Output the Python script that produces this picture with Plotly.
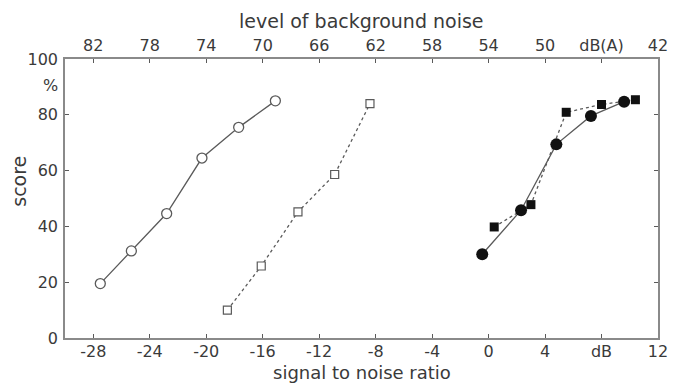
import plotly.graph_objects as go

# ---- data ----
open_circle_x = [-27.5, -25.3, -22.8, -20.3, -17.7, -15.1]
open_circle_y = [19.5, 31.2, 44.6, 64.5, 75.5, 85.0]

open_square_x = [-18.5, -16.1, -13.5, -10.9, -8.4]
open_square_y = [10.0, 25.8, 45.2, 58.6, 84.0]

filled_circle_x = [-0.45, 2.3, 4.8, 7.25, 9.6]
filled_circle_y = [30.0, 45.8, 69.4, 79.6, 84.7]

filled_square_x = [0.4, 3.0, 5.5, 8.0, 10.4]
filled_square_y = [39.8, 47.8, 80.9, 83.7, 85.4]

x_tickvals = [-28, -24, -20, -16, -12, -8, -4, 0, 4, 8, 12]
bottom_ticktext = ["-28", "-24", "-20", "-16", "-12", "-8", "-4", "0", "4", "dB", "12"]
top_ticktext = ["82", "78", "74", "70", "66", "62", "58", "54", "50", "dB(A)", "42"]
y_tickvals = [0, 20, 40, 60, 80, 100]
y_ticktext = ["0", "20", "40", "60", "80", "100"]

FONT = "DejaVu Sans"
TXT = "#3a3a3a"
LINE = "#5a5a5a"
AX = "#8a8a8a"

fig = go.Figure()

fig.add_trace(go.Scatter(
    x=open_circle_x, y=open_circle_y, mode="lines+markers",
    line=dict(color=LINE, width=1.3),
    marker=dict(symbol="circle", size=10, color="white", line=dict(color=LINE, width=1.3)),
    showlegend=False))

fig.add_trace(go.Scatter(
    x=open_square_x, y=open_square_y, mode="lines+markers",
    line=dict(color=LINE, width=1.3, dash="dot"),
    marker=dict(symbol="square", size=8, color="white", line=dict(color=LINE, width=1.2)),
    showlegend=False))

fig.add_trace(go.Scatter(
    x=filled_square_x, y=filled_square_y, mode="lines+markers",
    line=dict(color=LINE, width=1.3, dash="dot"),
    marker=dict(symbol="square", size=9, color="#111111", line=dict(color="#111111", width=0)),
    showlegend=False))

fig.add_trace(go.Scatter(
    x=filled_circle_x, y=filled_circle_y, mode="lines+markers",
    line=dict(color=LINE, width=1.3),
    marker=dict(symbol="circle", size=12, color="#111111", line=dict(color="#111111", width=0)),
    showlegend=False))

# invisible trace on top axis so it renders
fig.add_trace(go.Scatter(x=[x_tickvals[0]], y=[50], xaxis="x2", mode="markers",
                         marker=dict(opacity=0), showlegend=False, hoverinfo="skip"))

fig.update_layout(
    width=681, height=384,
    margin=dict(l=65, r=23, t=59, b=46),
    paper_bgcolor="white", plot_bgcolor="white",
    font=dict(family=FONT, size=16, color=TXT),
    xaxis=dict(range=[-30, 12], tickvals=x_tickvals, ticktext=bottom_ticktext,
               showgrid=False, zeroline=False, showline=True, linecolor=AX, linewidth=1.5,
               ticks="inside", ticklen=4, tickcolor=LINE, tickwidth=1.2,
               tickfont=dict(size=16), ticklabelstandoff=-2),
    xaxis2=dict(range=[-30, 12], overlaying="x", side="top", tickvals=x_tickvals,
                ticktext=top_ticktext, showgrid=False, zeroline=False, showline=True,
                linecolor=AX, linewidth=1.5, ticks="inside", ticklen=4, tickcolor=LINE,
                tickwidth=1.2, tickfont=dict(size=16), ticklabelstandoff=0),
    yaxis=dict(range=[0, 100], tickvals=y_tickvals, ticktext=y_ticktext,
               showgrid=False, zeroline=False, showline=True, linecolor=AX, linewidth=1.5,
               mirror="ticks", ticks="inside", ticklen=4, tickcolor=LINE, tickwidth=1.2,
               tickfont=dict(size=16), ticklabelstandoff=2),
)

fig.add_annotation(text="level of background noise", xref="paper", yref="paper",
                   x=0.5, y=1, yshift=38, showarrow=False, font=dict(size=19, color=TXT),
                   xanchor="center", yanchor="middle")
fig.add_annotation(text="signal to noise ratio", xref="paper", yref="paper",
                   x=0.5, y=0, yshift=-34, showarrow=False, font=dict(size=18, color=TXT),
                   xanchor="center", yanchor="middle")
fig.add_annotation(text="score", xref="paper", yref="y", x=0, xshift=-46, y=56,
                   textangle=-90, showarrow=False, font=dict(size=19, color=TXT),
                   xanchor="center", yanchor="middle")
fig.add_annotation(text="%", xref="paper", yref="y", x=0, xshift=-15, y=90.5,
                   showarrow=False, font=dict(size=16, color=TXT),
                   xanchor="center", yanchor="middle")

fig.write_html("out.html")
